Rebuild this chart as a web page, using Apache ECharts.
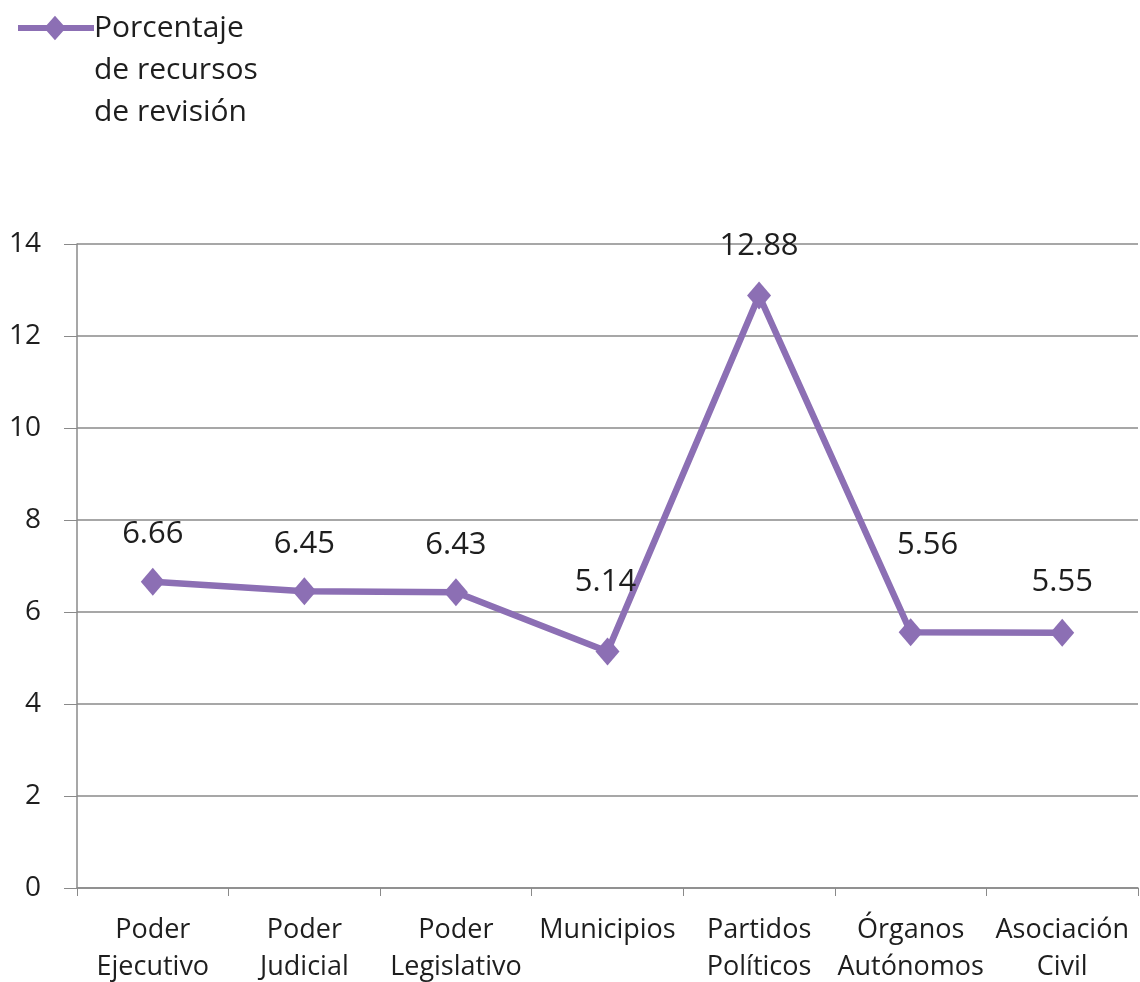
<!DOCTYPE html>
<html>
<head>
<meta charset="utf-8">
<script src="https://cdn.jsdelivr.net/npm/echarts@6/dist/echarts.min.js"></script>
<style>
html,body{margin:0;padding:0;background:#fff;}
#chart{width:1140px;height:982px;}
</style>
</head>
<body>
<div id="chart"></div>
<script>
const categories = ['Poder\nEjecutivo', 'Poder\nJudicial', 'Poder\nLegislativo', 'Municipios', 'Partidos\nPolíticos', 'Órganos\nAutónomos', 'Asociación\nCivil'];
const seriesName = 'Porcentaje\nde recursos\nde revisión';
const values = [6.66, 6.45, 6.43, 5.14, 12.88, 5.56, 5.55];
const yTicks = [0, 2, 4, 6, 8, 10, 12, 14];

const FONT = '"Open Sans", "Noto Sans", sans-serif';
const PURPLE = '#8C6FB4';
const labelDist = [18, 18, 18, 40, 20, 58, 21];
const labelShift = [0, 0, 0, -2, 0, 17, 0];

const chart = echarts.init(document.getElementById('chart'));
chart.setOption({
  animation: false,
  backgroundColor: '#fff',
  legend: {
    left: 13,
    top: -82,
    icon: 'path://M0,13 L28,13 L36,4 L44,13 L74,13 L74,19 L44,19 L36,28 L28,19 L0,19 Z',
    itemWidth: 76,
    itemHeight: 26,
    itemGap: 0,
    formatter: name => '\n\n' + name,
    textStyle: { fontFamily: FONT, fontSize: 30, color: '#1e1e1e', lineHeight: 42, padding: [0, 0, 0, -5] },
    data: [seriesName]
  },
  grid: { left: 77, right: 2, top: 244, bottom: 94, containLabel: false, outerBoundsMode: 'none' },
  xAxis: {
    type: 'category',
    data: categories,
    boundaryGap: true,
    axisLine: { lineStyle: { color: '#8a8a8a', width: 1.5 } },
    axisTick: { show: true, alignWithLabel: false, length: 8, lineStyle: { color: '#8a8a8a' } },
    axisLabel: { fontFamily: FONT, fontSize: 27, color: '#1e1e1e', lineHeight: 37, margin: 24, interval: 0 }
  },
  yAxis: {
    type: 'value',
    min: 0, max: 14, interval: 2,
    axisLine: { show: true, lineStyle: { color: '#8a8a8a', width: 1.5 } },
    axisTick: { show: true, length: 13, lineStyle: { color: '#8a8a8a' } },
    splitLine: { show: true, lineStyle: { color: '#8a8a8a', width: 1.5 } },
    axisLabel: {
      fontFamily: FONT, fontSize: 28, color: '#1e1e1e', margin: 36,
      formatter: v => yTicks.includes(v) ? String(v) : ''
    }
  },
  series: [{
    name: seriesName,
    type: 'line',
    data: values.map((v, i) => ({ value: v, label: { distance: labelDist[i], offset: [labelShift[i], 0] } })),
    symbol: 'diamond',
    symbolSize: [24, 28],
    lineStyle: { color: PURPLE, width: 6.5 },
    itemStyle: { color: PURPLE },
    label: {
      show: true, position: 'top',
      fontFamily: FONT, fontSize: 31, color: '#1e1e1e',
      formatter: p => p.value.toFixed(2)
    }
  }]
});
</script>
</body>
</html>
